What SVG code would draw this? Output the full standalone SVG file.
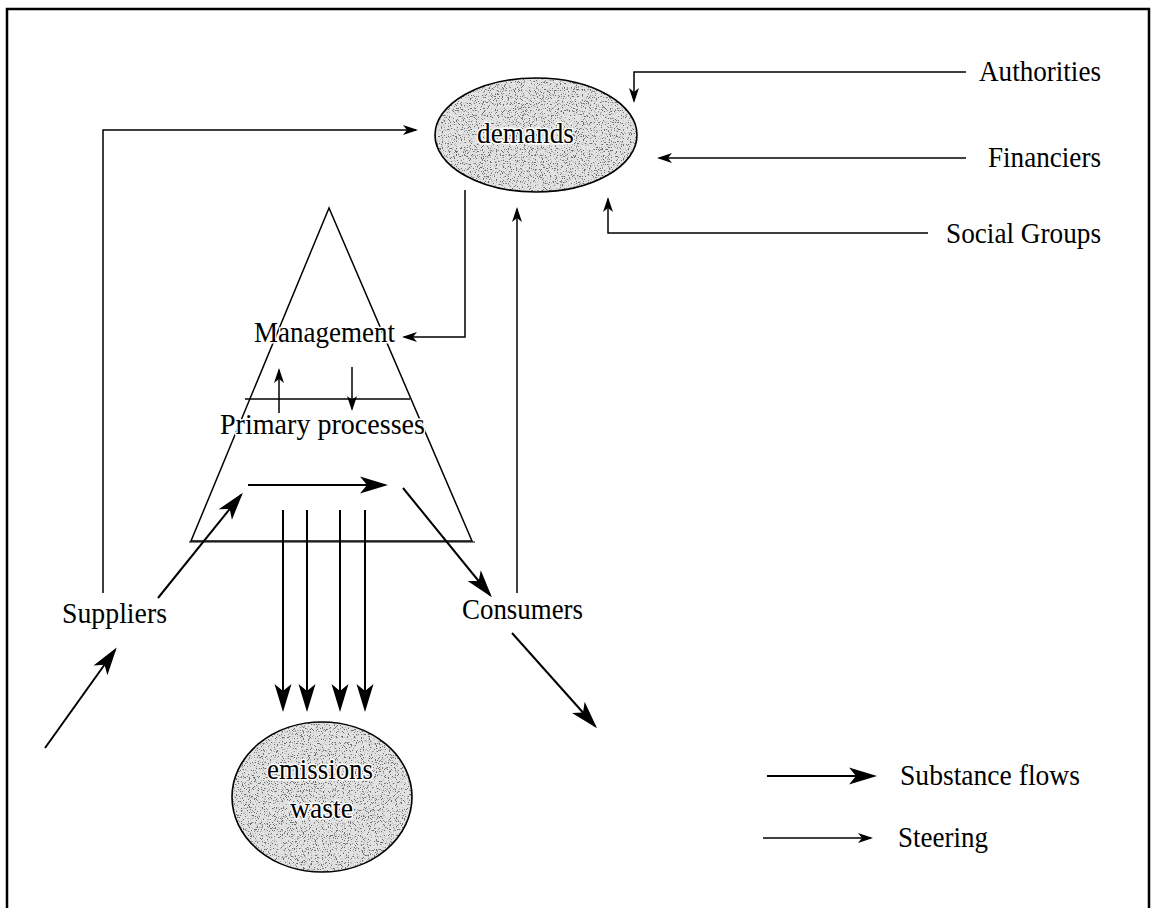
<svg xmlns="http://www.w3.org/2000/svg" width="1156" height="908" viewBox="0 0 1156 908">
<style>
  text { font-family: "Liberation Serif", "Times New Roman", serif; font-size: 29px; fill: #000; }
  .halo { stroke: #fff; stroke-width: 3; paint-order: stroke; stroke-linejoin: round; }
  .sub { fill: none; stroke: #000; stroke-width: 2; marker-end: url(#big); }
  .steer { fill: none; stroke: #000; stroke-width: 1.5; marker-end: url(#small); }
  .blob { fill: #e2e2e2; filter: url(#speckle); }
  .blobline { fill: none; stroke: #000; stroke-width: 1.6; }
</style>
<defs>
  <marker id="big" viewBox="-30 -10 34 20" refX="0" refY="0" markerWidth="34" markerHeight="20" markerUnits="userSpaceOnUse" orient="auto">
    <path d="M3,0 L-25,-8.5 L-18,0 L-25,8.5 Z" fill="#000"/>
  </marker>
  <marker id="small" viewBox="-16 -6 20 12" refX="0" refY="0" markerWidth="20" markerHeight="12" markerUnits="userSpaceOnUse" orient="auto">
    <path d="M2,0 L-13,-5 L-9,0 L-13,5 Z" fill="#000"/>
  </marker>
  <filter id="speckle" x="0%" y="0%" width="100%" height="100%">
    <feTurbulence type="fractalNoise" baseFrequency="0.85" numOctaves="2" seed="7" result="noise"/>
    <feColorMatrix in="noise" type="matrix" values="0 0 0 0 0.15  0 0 0 0 0.15  0 0 0 0 0.15  10 0 0 0 -5.7" result="dots"/>
    <feComposite in="dots" in2="SourceGraphic" operator="in" result="clipped"/>
    <feMerge><feMergeNode in="SourceGraphic"/><feMergeNode in="clipped"/></feMerge>
  </filter>
</defs>

<rect x="0" y="0" width="1156" height="908" fill="#fff"/>
<rect id="frame" x="7" y="9" width="1142" height="920" fill="none" stroke="#000" stroke-width="2.5"/>

<g id="node-demands">
  <ellipse class="blob" cx="536" cy="135" rx="101" ry="57"/>
  <ellipse class="blobline" cx="536" cy="135" rx="101" ry="57"/>
  <text class="halo" x="477" y="143" textLength="97" lengthAdjust="spacingAndGlyphs">demands</text>
</g>

<g id="node-authorities"><text x="979" y="81" textLength="122" lengthAdjust="spacingAndGlyphs">Authorities</text></g>
<g id="node-financiers"><text x="988" y="167" textLength="113" lengthAdjust="spacingAndGlyphs">Financiers</text></g>
<g id="node-socialgroups"><text x="946" y="243" textLength="155" lengthAdjust="spacingAndGlyphs">Social Groups</text></g>

<g id="node-organisation">
  <polygon points="329,208 191,541 472,541" fill="none" stroke="#000" stroke-width="1.5"/>
  <line x1="189" y1="542" x2="475" y2="542" stroke="#000" stroke-width="1.2"/>
  <line x1="245" y1="399" x2="410" y2="399" stroke="#000" stroke-width="1.5"/>
  <text class="halo" x="254" y="342" textLength="141" lengthAdjust="spacingAndGlyphs">Management</text>
  <text class="halo" x="220" y="434" textLength="205" lengthAdjust="spacingAndGlyphs">Primary processes</text>
</g>

<g id="node-suppliers"><text x="62" y="623" textLength="105" lengthAdjust="spacingAndGlyphs">Suppliers</text></g>
<g id="node-consumers"><text x="462" y="619" textLength="121" lengthAdjust="spacingAndGlyphs">Consumers</text></g>

<g id="node-emissions">
  <ellipse class="blob" cx="322" cy="797" rx="90" ry="75"/>
  <ellipse class="blobline" cx="322" cy="797" rx="90" ry="75"/>
  <text class="halo" x="267" y="779" textLength="106" lengthAdjust="spacingAndGlyphs">emissions</text>
  <text class="halo" x="290" y="818" textLength="63" lengthAdjust="spacingAndGlyphs">waste</text>
</g>

<g id="connectors">
  <!-- steering -->
  <polyline class="steer" points="103,593 103,130 416,130"/>
  <polyline class="steer" points="465,190 465,337 404,337"/>
  <line class="steer" x1="279" y1="413" x2="279" y2="370"/>
  <line class="steer" x1="352" y1="367" x2="352" y2="409"/>
  <line class="steer" x1="517" y1="593" x2="517" y2="209"/>
  <polyline class="steer" points="966,72 634,72 634,101"/>
  <line class="steer" x1="966" y1="158" x2="659" y2="158"/>
  <polyline class="steer" points="928,233 608,233 608,199"/>
  <!-- substance flows -->
  <line class="sub" x1="248" y1="485" x2="385" y2="485"/>
  <line class="sub" x1="158" y1="598" x2="241" y2="495"/>
  <line class="sub" x1="45" y1="748" x2="115" y2="650"/>
  <line class="sub" x1="403" y1="488" x2="490" y2="595"/>
  <line class="sub" x1="512" y1="633" x2="595" y2="726"/>
  <line class="sub" x1="283" y1="510" x2="283" y2="709"/>
  <line class="sub" x1="307" y1="510" x2="307" y2="709"/>
  <line class="sub" x1="340" y1="510" x2="340" y2="709"/>
  <line class="sub" x1="365" y1="510" x2="365" y2="709"/>
</g>

<g id="legend">
  <line class="sub" x1="767" y1="776" x2="874" y2="776"/>
  <text x="900" y="785" textLength="180" lengthAdjust="spacingAndGlyphs">Substance flows</text>
  <line class="steer" x1="763" y1="838" x2="871" y2="838"/>
  <text x="898" y="847" textLength="90" lengthAdjust="spacingAndGlyphs">Steering</text>
</g>
</svg>
